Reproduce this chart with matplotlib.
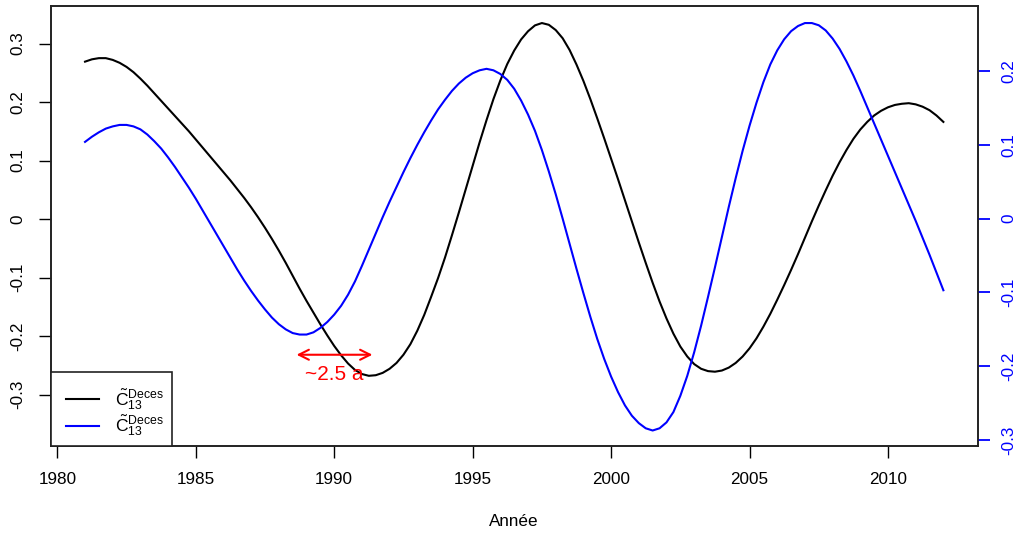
import matplotlib
matplotlib.use("Agg")
import matplotlib.pyplot as plt
from matplotlib.lines import Line2D
from matplotlib.legend_handler import HandlerLine2D

plt.rcParams['font.family'] = ['Liberation Sans', 'DejaVu Sans']
plt.rcParams['mathtext.fontset'] = 'custom'
plt.rcParams['mathtext.rm'] = 'Liberation Sans'
plt.rcParams['mathtext.it'] = 'Liberation Sans:italic'

# ---- data (quarter-year steps 1981.00 .. 2012.00) ----
years = [1981.0 + 0.25 * i for i in range(125)]

black_vals = [
    0.269, 0.273, 0.275, 0.275,      # 1981
    0.272, 0.267, 0.260, 0.251,      # 1982
    0.240, 0.228, 0.215, 0.202,      # 1983
    0.189, 0.176, 0.163, 0.150,      # 1984
    0.136, 0.122, 0.108, 0.094,      # 1985
    0.080, 0.066, 0.051, 0.036,      # 1986
    0.020, 0.003, -0.015, -0.034,    # 1987
    -0.054, -0.075, -0.097, -0.119,  # 1988
    -0.140, -0.160, -0.180, -0.199,  # 1989
    -0.217, -0.233, -0.247, -0.258,  # 1990
    -0.265, -0.268, -0.267, -0.263,  # 1991
    -0.256, -0.246, -0.232, -0.214,  # 1992
    -0.191, -0.164, -0.133, -0.101,  # 1993
    -0.066, -0.028, 0.011, 0.051,    # 1994
    0.091, 0.131, 0.169, 0.205,      # 1995
    0.237, 0.265, 0.288, 0.307,      # 1996
    0.321, 0.331, 0.335, 0.332,      # 1997
    0.323, 0.309, 0.289, 0.264,      # 1998
    0.236, 0.205, 0.172, 0.138,      # 1999
    0.103, 0.068, 0.032, -0.004,     # 2000
    -0.040, -0.075, -0.109, -0.141,  # 2001
    -0.170, -0.196, -0.218, -0.235,  # 2002
    -0.248, -0.256, -0.260, -0.261,  # 2003
    -0.259, -0.254, -0.246, -0.235,  # 2004
    -0.221, -0.204, -0.184, -0.162,  # 2005
    -0.138, -0.113, -0.087, -0.060,  # 2006
    -0.032, -0.004, 0.023, 0.049,    # 2007
    0.074, 0.097, 0.118, 0.137,      # 2008
    0.153, 0.166, 0.177, 0.185,      # 2009
    0.191, 0.195, 0.197, 0.198,      # 2010
    0.196, 0.192, 0.186, 0.177,      # 2011
    0.166,                           # 2012
]

blue_vals = [
    0.104, 0.111, 0.117, 0.122,      # 1981
    0.125, 0.127, 0.127, 0.125,      # 1982
    0.121, 0.114, 0.105, 0.095,      # 1983
    0.083, 0.070, 0.056, 0.042,      # 1984
    0.027, 0.011, -0.005, -0.021,    # 1985
    -0.037, -0.053, -0.069, -0.084,  # 1986
    -0.098, -0.111, -0.123, -0.134,  # 1987
    -0.143, -0.150, -0.155, -0.157,  # 1988
    -0.157, -0.154, -0.148, -0.140,  # 1989
    -0.130, -0.118, -0.103, -0.085,  # 1990
    -0.064, -0.042, -0.020, 0.002,   # 1991
    0.023, 0.043, 0.063, 0.082,      # 1992
    0.100, 0.117, 0.133, 0.148,      # 1993
    0.161, 0.173, 0.183, 0.191,      # 1994
    0.197, 0.201, 0.203, 0.201,      # 1995
    0.196, 0.188, 0.176, 0.160,      # 1996
    0.141, 0.119, 0.093, 0.064,      # 1997
    0.033, 0.000, -0.034, -0.068,    # 1998
    -0.101, -0.133, -0.163, -0.190,  # 1999
    -0.214, -0.235, -0.253, -0.267,  # 2000
    -0.277, -0.284, -0.287, -0.284,  # 2001
    -0.276, -0.262, -0.240, -0.213,  # 2002
    -0.181, -0.145, -0.106, -0.066,  # 2003
    -0.025, 0.016, 0.055, 0.092,     # 2004
    0.126, 0.157, 0.185, 0.209,      # 2005
    0.228, 0.243, 0.254, 0.261,      # 2006
    0.265, 0.265, 0.262, 0.255,      # 2007
    0.244, 0.230, 0.213, 0.194,      # 2008
    0.173, 0.151, 0.129, 0.107,      # 2009
    0.085, 0.063, 0.041, 0.019,      # 2010
    -0.003, -0.026, -0.049, -0.073,  # 2011
    -0.097,                          # 2012
]

x_ticks = [1980, 1985, 1990, 1995, 2000, 2005, 2010]
left_ticks = [-0.3, -0.2, -0.1, 0.0, 0.1, 0.2, 0.3]
left_labels = ['-0.3', '-0.2', '-0.1', '0', '0.1', '0.2', '0.3']
right_ticks = [-0.3, -0.2, -0.1, 0.0, 0.1, 0.2]
right_labels = ['-0.3', '-0.2', '-0.1', '0', '0.1', '0.2']

arrow_start = 1988.64
arrow_end = 1991.38
arrow_y = -0.232
lag_label = '~2.5 a'
legend_label = r'$\tilde{\mathrm{C}}_{13}^{\mathrm{Deces}}$'

# ---- figure ----
fig = plt.figure(figsize=(10.24, 5.38), dpi=100)
ax = fig.add_axes([0.0495, 0.171, 0.9053, 0.8177])
ax2 = ax.twinx()

l1, = ax.plot(years, black_vals, color='black', lw=1.5)
l2, = ax2.plot(years, blue_vals, color='blue', lw=1.5)

ax.set_xlim(1979.76, 2013.24)
ax.set_ylim(-0.388, 0.364)
ax2.set_ylim(-0.308, 0.288)

ax.set_xticks(x_ticks)
ax.set_xticklabels([str(t) for t in x_ticks])
ax.set_yticks(left_ticks)
ax.set_yticklabels(left_labels, rotation=90, va='center')
ax2.set_yticks(right_ticks)
ax2.set_yticklabels(right_labels, rotation=90, va='center', color='blue')

ax.tick_params(axis='x', length=8.5, width=1.0, labelsize=12.3, pad=10)
ax.tick_params(axis='y', length=8.5, width=1.0, labelsize=12.3, pad=10)
ax2.tick_params(axis='y', length=8.5, width=1.3, labelsize=12.3, pad=8.5,
                color='blue', labelcolor='blue')

for a in (ax, ax2):
    for s in a.spines.values():
        s.set_linewidth(1.2)
        s.set_color('#222222')

ax.set_xlabel('Année', fontsize=12.3, labelpad=20)

# red double arrow annotation
ax.annotate('', xy=(arrow_start, arrow_y), xytext=(arrow_end, arrow_y),
            arrowprops=dict(arrowstyle='<->', color='red', lw=1.5,
                            mutation_scale=18, shrinkA=0, shrinkB=0))
ax.text((arrow_start + arrow_end) / 2, arrow_y - 0.017, lag_label, color='red',
        fontsize=15, ha='center', va='top')

leg = ax2.legend([l1, l2], [legend_label, legend_label], loc='lower left',
                 borderaxespad=0, fancybox=False, framealpha=1, edgecolor='#222222',
                 fontsize=12.6, handlelength=2.29, handletextpad=0.92,
                 labelspacing=0.1, borderpad=0.45,
                 title=' ', title_fontsize=4,
                 handler_map={Line2D: HandlerLine2D(xpad=0.4)})
leg.get_frame().set_linewidth(1.2)

fig.savefig('out.png', dpi=100)
